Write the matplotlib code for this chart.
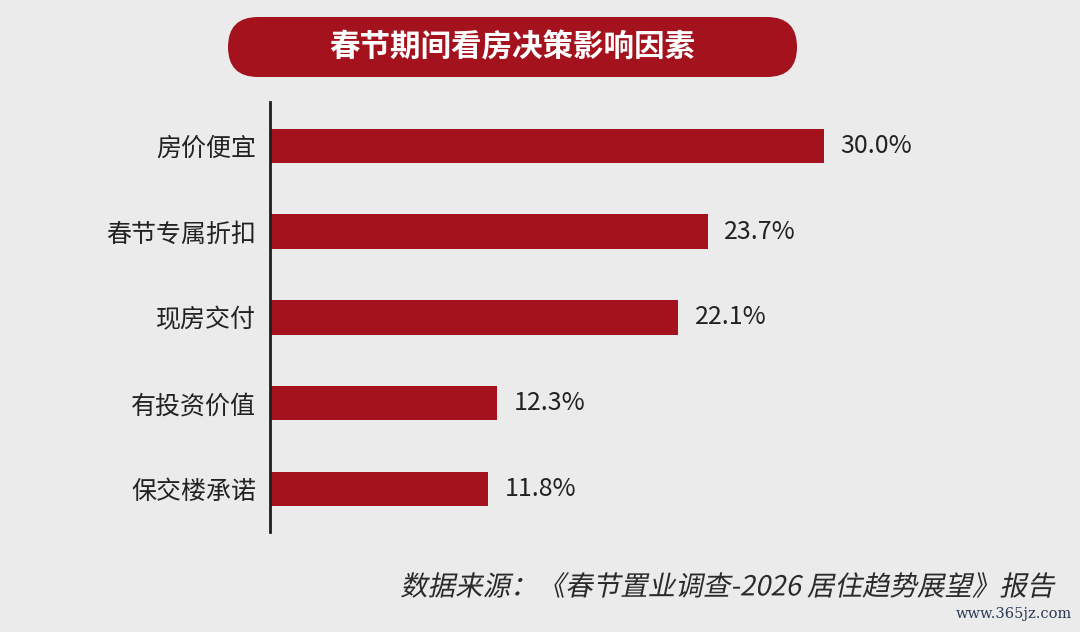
import matplotlib
matplotlib.use("Agg")
import matplotlib.pyplot as plt
from matplotlib.patches import FancyBboxPatch, PathPatch
from matplotlib.textpath import TextPath
from matplotlib.font_manager import FontProperties
from matplotlib.transforms import Affine2D

plt.rcParams['font.family'] = ['Noto Sans CJK SC', 'DejaVu Sans']

categories = ["房价便宜", "春节专属折扣", "现房交付", "有投资价值", "保交楼承诺"]
values = [30.0, 23.7, 22.1, 12.3, 11.8]
value_labels = ["30.0%", "23.7%", "22.1%", "12.3%", "11.8%"]
title = "春节期间看房决策影响因素"
source = "数据来源：《春节置业调查-2026 居住趋势展望》报告"
watermark = "www.365jz.com"

BG = "#ebebeb"
RED = "#a3121d"

fig = plt.figure(figsize=(10.8, 6.32), dpi=100, facecolor=BG)

# overlay axes in pixel coordinates for decorations
deco = fig.add_axes([0, 0, 1, 1], zorder=0)
deco.set_xlim(0, 1080)
deco.set_ylim(632, 0)
deco.axis("off")
deco.patch.set_alpha(0)
pill = FancyBboxPatch((258, 47), 509, 0.001,
                      boxstyle="round,pad=30", facecolor=RED, edgecolor="none")
deco.add_patch(pill)
deco.text(512, 48, title, color="white", fontsize=22, fontweight="bold",
          ha="center", va="center")

# italic (skewed) source line
fp = FontProperties(family="Noto Sans CJK SC")
tp = TextPath((0, 0), source, size=27.5, prop=fp)
ext = tp.get_extents()
tr = (Affine2D().translate(-ext.x1, -(ext.y0 + ext.y1) / 2)
      .skew_deg(12, 0).scale(1, -1).translate(1055, 585))
deco.add_patch(PathPatch(tr.transform_path(tp), facecolor="#2a2a2a",
                         edgecolor="none", lw=0))

deco.text(1072, 614, watermark, color="#2b3a55", fontsize=10.5,
          family=["DejaVu Serif"], ha="right", va="center")

ax = fig.add_axes([270 / 1080, 1 - 532 / 632, 730 / 1080, 430 / 632], zorder=1)
ax.patch.set_alpha(0)
y = list(range(len(categories)))
ax.barh(y, values, height=0.4, color=RED)
ax.set_xlim(0, 730 / (554 / 30.0))
ax.set_ylim(4.5, -0.51)
ax.set_yticks(y)
ax.set_yticklabels(categories, fontsize=18, color="#222222")
ax.tick_params(axis="y", length=0, pad=10)
ax.set_xticks([])
for s in ["top", "right", "bottom"]:
    ax.spines[s].set_visible(False)
ax.spines["left"].set_linewidth(2)
ax.spines["left"].set_color("#1e1e1e")
for yi, v, lab in zip(y, values, value_labels):
    ax.annotate(lab, (v, yi), xytext=(12, 0), textcoords="offset points",
                ha="left", va="center", fontsize=18, color="#222222")

fig.savefig("out.png", dpi=100, facecolor=BG)
